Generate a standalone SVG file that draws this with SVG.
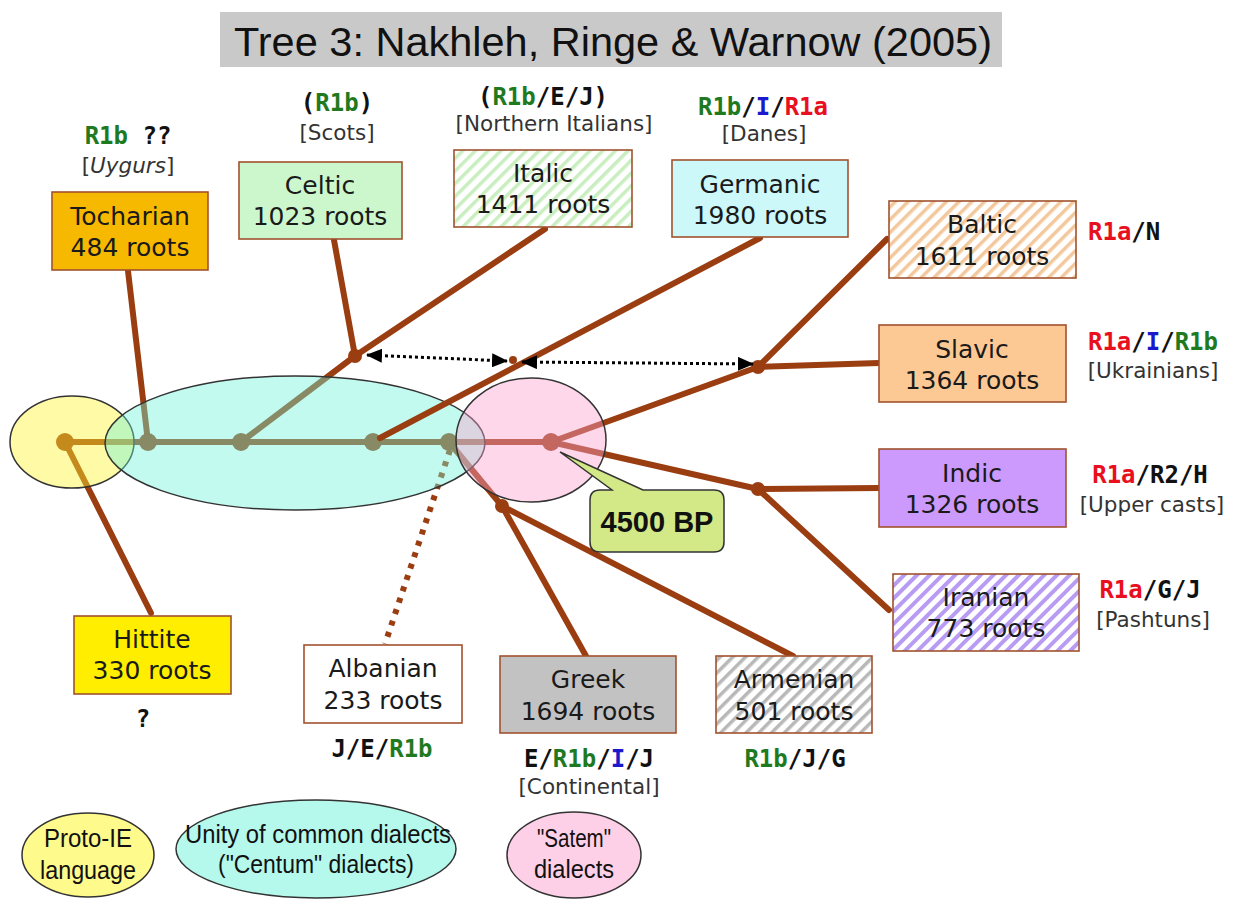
<svg xmlns="http://www.w3.org/2000/svg" width="1240" height="900" viewBox="0 0 1240 900">
<defs>
<style>
.br{fill:none;stroke:#9a3e12;stroke-width:6;stroke-linecap:round;stroke-linejoin:round}
.dot{fill:#9a3e12}
.box{stroke:#a0522d;stroke-width:1.6}
.bt{font-family:"DejaVu Sans",Verdana,sans-serif;font-size:25px;fill:#1a1a1a;text-anchor:middle}
.hl{font-family:"DejaVu Sans Mono","Liberation Mono",monospace;font-weight:bold;font-size:24px;fill:#111;text-anchor:middle}
.hls{font-family:"DejaVu Sans Mono","Liberation Mono",monospace;font-weight:bold;font-size:24px;fill:#111;text-anchor:start}
.sub{font-family:"DejaVu Sans",Verdana,sans-serif;font-size:21.5px;fill:#333;text-anchor:middle}
.g{fill:#1f7a1f}.b{fill:#1a1acc}.r{fill:#e8101e}
.ell{stroke:#333;stroke-width:1.5;fill-opacity:0.42}
.leg{stroke:#333;stroke-width:1.5}
.lt{font-family:"Liberation Sans",Arial,sans-serif;font-size:26px;fill:#111;text-anchor:middle}
.dash{fill:none;stroke:#000;stroke-width:3;stroke-dasharray:3 3}
</style>
<pattern id="hGreen" patternUnits="userSpaceOnUse" width="9" height="9" patternTransform="rotate(45)"><rect width="9" height="9" fill="#fff"/><rect width="3.5" height="9" fill="#c9eec0"/></pattern>
<pattern id="hPeach" patternUnits="userSpaceOnUse" width="9" height="9" patternTransform="rotate(45)"><rect width="9" height="9" fill="#fff"/><rect width="3.5" height="9" fill="#f3c89c"/></pattern>
<pattern id="hPurple" patternUnits="userSpaceOnUse" width="9" height="9" patternTransform="rotate(45)"><rect width="9" height="9" fill="#fff"/><rect width="4" height="9" fill="#b89cf4"/></pattern>
<pattern id="hGray" patternUnits="userSpaceOnUse" width="9" height="9" patternTransform="rotate(45)"><rect width="9" height="9" fill="#fff"/><rect width="3.5" height="9" fill="#b8b8b8"/></pattern>
<marker id="ah" markerUnits="userSpaceOnUse" markerWidth="16" markerHeight="14" refX="15" refY="7" orient="auto-start-reverse"><path d="M0,0 L16,7 L0,14 Z" fill="#000"/></marker>
</defs>
<rect width="1240" height="900" fill="#fff"/>
<g id="title">
<rect x="220" y="12" width="782" height="55" fill="#c9c9c9"/>
<text x="613" y="56" font-family="Liberation Sans, Arial, sans-serif" font-size="41" fill="#111" text-anchor="middle" textLength="758" lengthAdjust="spacingAndGlyphs">Tree 3: Nakhleh, Ringe &amp; Warnow (2005)</text>
</g>
<g id="connectors">
<path class="br" d="M65,442 H551"/>
<path class="br" d="M65,442 L151,613"/>
<path class="br" d="M148,442 L128,271"/>
<path class="br" d="M241,442 L355,356 L545,229"/>
<path class="br" d="M334,240 L355,356"/>
<path class="br" d="M449,442 L502,506 L586,656"/>
<path class="br" d="M502,506 L793,656"/>
<path class="br" d="M551,442 L758,367 L887,239"/>
<path class="br" d="M758,367 L879,363"/>
<path class="br" d="M551,442 L758,489 L879,488"/>
<path class="br" d="M758,489 L889,610"/>
<path d="M450,450 L385,644" fill="none" stroke="#9a3e12" stroke-width="6" stroke-dasharray="5 7"/>
<circle class="dot" cx="65" cy="442" r="9"/>
<circle class="dot" cx="148" cy="442" r="9"/>
<circle class="dot" cx="241" cy="442" r="9"/>
<circle class="dot" cx="373" cy="442" r="9"/>
<circle class="dot" cx="449" cy="442" r="9"/>
<circle class="dot" cx="551" cy="442" r="9"/>
<circle class="dot" cx="355" cy="356" r="7"/>
<circle class="dot" cx="758" cy="367" r="7"/>
<circle class="dot" cx="758" cy="489" r="7"/>
<circle class="dot" cx="502" cy="506" r="7"/>
</g>
<g id="groups">
<ellipse class="ell" cx="72" cy="442" rx="62" ry="46" fill="#fff42c"/>
<ellipse class="ell" cx="295" cy="443" rx="190" ry="67" fill="#6ef4da"/>
<ellipse class="ell" cx="531" cy="440" rx="75" ry="62" fill="#ff9fcc"/>
</g>
<g id="connectors-top">
<path class="br" d="M380,438 L760,238"/>
<circle class="dot" cx="513" cy="360" r="4"/>
<line class="dash" x1="367" y1="355" x2="507" y2="361" marker-start="url(#ah)" marker-end="url(#ah)"/>
<line class="dash" x1="522" y1="362" x2="753" y2="364" marker-start="url(#ah)" marker-end="url(#ah)"/>
</g>
<g id="callout">
<path d="M600,490 H612 L560,452 L643,490 H714 Q724,490 724,500 V542 Q724,552 714,552 H600 Q590,552 590,542 V500 Q590,490 600,490 Z" fill="#d3e887" stroke="#333" stroke-width="1.5"/>
<text x="657" y="532" font-family="Liberation Sans, Arial, sans-serif" font-weight="bold" font-size="29" fill="#111" text-anchor="middle">4500 BP</text>
</g>
<g id="tocharian">
<text class="hl" x="128" y="144"><tspan class="g">R1b</tspan> ??</text>
<text class="sub" x="128" y="173">[<tspan font-style="italic">Uygurs</tspan>]</text>
<rect class="box" x="52" y="192" width="156" height="78" fill="#f7b900"/>
<text class="bt" x="130" y="225">Tocharian</text>
<text class="bt" x="130" y="256">484 roots</text>
</g>
<g id="celtic">
<text class="hl" x="337" y="111">(<tspan class="g">R1b</tspan>)</text>
<text class="sub" x="337" y="140">[Scots]</text>
<rect class="box" x="239" y="162" width="163" height="77" fill="#ccf7cc"/>
<text class="bt" x="320" y="194">Celtic</text>
<text class="bt" x="320" y="225">1023 roots</text>
</g>
<g id="italic">
<text class="hl" x="543" y="105">(<tspan class="g">R1b</tspan>/E/J)</text>
<text class="sub" x="554" y="131">[Northern Italians]</text>
<rect class="box" x="454" y="150" width="178" height="77" fill="url(#hGreen)"/>
<text class="bt" x="543" y="182">Italic</text>
<text class="bt" x="543" y="213">1411 roots</text>
</g>
<g id="germanic">
<text class="hl" x="763" y="115"><tspan class="g">R1b</tspan>/<tspan class="b">I</tspan>/<tspan class="r">R1a</tspan></text>
<text class="sub" x="764" y="141">[Danes]</text>
<rect class="box" x="672" y="160" width="176" height="77" fill="#ccf8fa"/>
<text class="bt" x="760" y="193">Germanic</text>
<text class="bt" x="760" y="224">1980 roots</text>
</g>
<g id="baltic">
<rect class="box" x="889" y="201" width="187" height="77" fill="url(#hPeach)"/>
<text class="bt" x="982" y="233">Baltic</text>
<text class="bt" x="982" y="265">1611 roots</text>
<text class="hls" x="1088" y="240"><tspan class="r">R1a</tspan>/N</text>
</g>
<g id="slavic">
<rect class="box" x="879" y="325" width="187" height="77" fill="#fcc894"/>
<text class="bt" x="972" y="358">Slavic</text>
<text class="bt" x="972" y="389">1364 roots</text>
<text class="hl" x="1153" y="350"><tspan class="r">R1a</tspan>/<tspan class="b">I</tspan>/<tspan class="g">R1b</tspan></text>
<text class="sub" x="1153" y="378">[Ukrainians]</text>
</g>
<g id="indic">
<rect class="box" x="879" y="449" width="187" height="78" fill="#cc99fc"/>
<text class="bt" x="972" y="482">Indic</text>
<text class="bt" x="972" y="513">1326 roots</text>
<text class="hl" x="1150" y="483"><tspan class="r">R1a</tspan>/R2/H</text>
<text class="sub" x="1152" y="512">[Upper casts]</text>
</g>
<g id="iranian">
<rect class="box" x="893" y="574" width="186" height="77" fill="url(#hPurple)"/>
<text class="bt" x="986" y="606">Iranian</text>
<text class="bt" x="986" y="637">773 roots</text>
<text class="hl" x="1150" y="598"><tspan class="r">R1a</tspan>/G/J</text>
<text class="sub" x="1153" y="627">[Pashtuns]</text>
</g>
<g id="hittite">
<rect class="box" x="74" y="616" width="157" height="78" fill="#ffee00"/>
<text class="bt" x="152" y="648">Hittite</text>
<text class="bt" x="152" y="679">330 roots</text>
<text class="hl" x="143" y="727">?</text>
</g>
<g id="albanian">
<rect class="box" x="304" y="645" width="158" height="78" fill="#fff"/>
<text class="bt" x="383" y="677">Albanian</text>
<text class="bt" x="383" y="709">233 roots</text>
<text class="hl" x="382" y="757">J/E/<tspan class="g">R1b</tspan></text>
</g>
<g id="greek">
<rect class="box" x="500" y="656" width="176" height="77" fill="#c2c2c2"/>
<text class="bt" x="588" y="688">Greek</text>
<text class="bt" x="588" y="720">1694 roots</text>
<text class="hl" x="589" y="767">E/<tspan class="g">R1b</tspan>/<tspan class="b">I</tspan>/J</text>
<text class="sub" x="589" y="794">[Continental]</text>
</g>
<g id="armenian">
<rect class="box" x="716" y="656" width="156" height="77" fill="url(#hGray)"/>
<text class="bt" x="794" y="688">Armenian</text>
<text class="bt" x="794" y="720">501 roots</text>
<text class="hl" x="795" y="767"><tspan class="g">R1b</tspan>/J/G</text>
</g>
<g id="legend">
<ellipse class="leg" cx="88" cy="855" rx="66" ry="42" fill="#fffa8c"/>
<text class="lt" x="88" y="847" textLength="88" lengthAdjust="spacingAndGlyphs">Proto-IE</text>
<text class="lt" x="88" y="879" textLength="96" lengthAdjust="spacingAndGlyphs">language</text>
<ellipse class="leg" cx="316" cy="849" rx="140" ry="49" fill="#b5f8ec"/>
<text class="lt" x="318" y="843" textLength="266" lengthAdjust="spacingAndGlyphs">Unity of common dialects</text>
<text class="lt" x="316" y="873" textLength="196" lengthAdjust="spacingAndGlyphs">("Centum" dialects)</text>
<ellipse class="leg" cx="574" cy="855" rx="67" ry="43" fill="#fdd0e8"/>
<text class="lt" x="574" y="847" textLength="74" lengthAdjust="spacingAndGlyphs">"Satem"</text>
<text class="lt" x="574" y="878" textLength="80" lengthAdjust="spacingAndGlyphs">dialects</text>
</g>
</svg>
